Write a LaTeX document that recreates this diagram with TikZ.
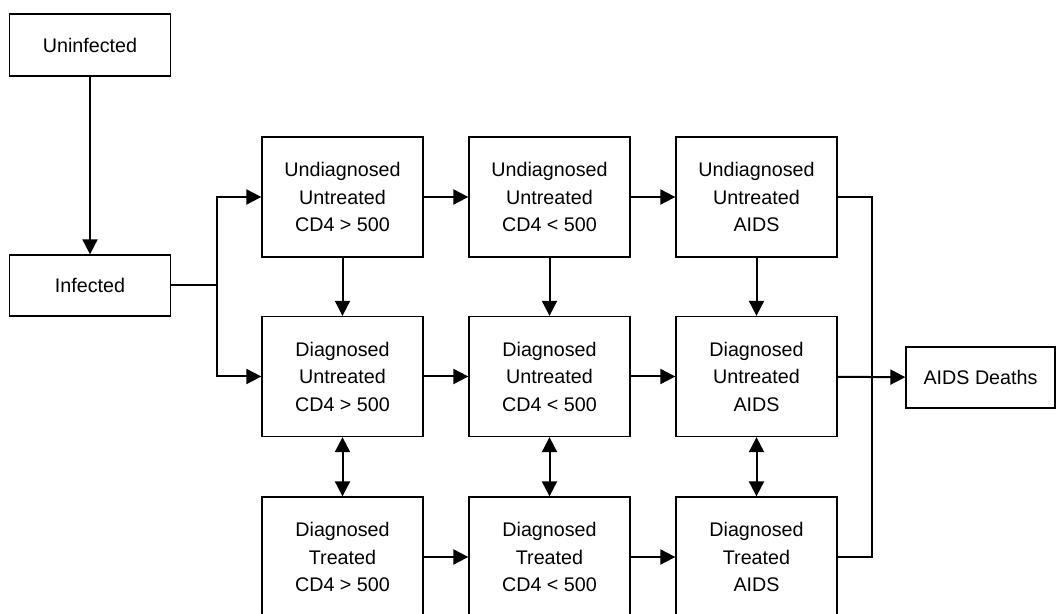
\documentclass[tikz,border=0pt]{standalone}
\usepackage{fontspec}
\setmainfont{Liberation Sans}
\usetikzlibrary{arrows.meta}

\begin{document}
\begin{tikzpicture}[x=0.5pt,y=-0.5pt]
\useasboundingbox (0,0) rectangle (1056,614);
\begin{scope}[every node/.style={rectangle,draw,line width=0.65pt,align=center,
              font=\fontsize{9.85}{13.75}\selectfont,
              minimum width=80.5pt,minimum height=60pt}]
    \node (un) at (90,45) [minimum height=31pt] {Uninfected};
    \node (inf) at (90,285.5) [minimum height=30.5pt] {Infected};
    \node (u1) at (342.5,197) {Undiagnosed\\Untreated\\CD4 > 500};
    \node (u2) at (549.5,197) {Undiagnosed\\Untreated\\CD4 < 500};
    \node (u3) at (756.5,197) {Undiagnosed\\Untreated\\AIDS};
    \node (d1) at (342.5,376.5) {Diagnosed\\Untreated\\CD4 > 500};
    \node (d2) at (549.5,376.5) {Diagnosed\\Untreated\\CD4 < 500};
    \node (d3) at (756.5,376.5) {Diagnosed\\Untreated\\AIDS};
    \node (t1) at (342.5,557) {Diagnosed\\Treated\\CD4 > 500};
    \node (t2) at (549.5,557) {Diagnosed\\Treated\\CD4 < 500};
    \node (t3) at (756.5,557) {Diagnosed\\Treated\\AIDS};
    \node (dead) at (980.5,377.5) [minimum width=74.5pt,minimum height=30.5pt] {AIDS Deaths};
\end{scope}
\coordinate (split) at (217,285.5);
\coordinate (bus) at (872,376.5);
\begin{scope}[every edge/.style={draw=black,line width=1pt,
              -{Triangle[length=7.5pt,width=7.5pt]}}]
    \path (un) edge (inf);
    \path (u1) edge (u2);
    \path (u2) edge (u3);
    \path (d1) edge (d2);
    \path (d2) edge (d3);
    \path (t1) edge (t2);
    \path (t2) edge (t3);
    \path (u1) edge (d1);
    \path (u2) edge (d2);
    \path (u3) edge (d3);
    \path (d1) edge[{Triangle[length=7.5pt,width=7.5pt]}-{Triangle[length=7.5pt,width=7.5pt]}] (t1);
    \path (d2) edge[{Triangle[length=7.5pt,width=7.5pt]}-{Triangle[length=7.5pt,width=7.5pt]}] (t2);
    \path (d3) edge[{Triangle[length=7.5pt,width=7.5pt]}-{Triangle[length=7.5pt,width=7.5pt]}] (t3);
    \path (d3) edge (dead);
    % branch out of Infected
    \draw[line width=1pt] (inf) -- (split);
    \draw[line width=1pt,-{Triangle[length=7.5pt,width=7.5pt]}] (split) |- (u1);
    \draw[line width=1pt,-{Triangle[length=7.5pt,width=7.5pt]}] (split) |- (d1);
    % AIDS column joins the bus
    \draw[line width=0.65pt] (u3) -| (bus) |- (t3);
\end{scope}
\end{tikzpicture}
\end{document}
